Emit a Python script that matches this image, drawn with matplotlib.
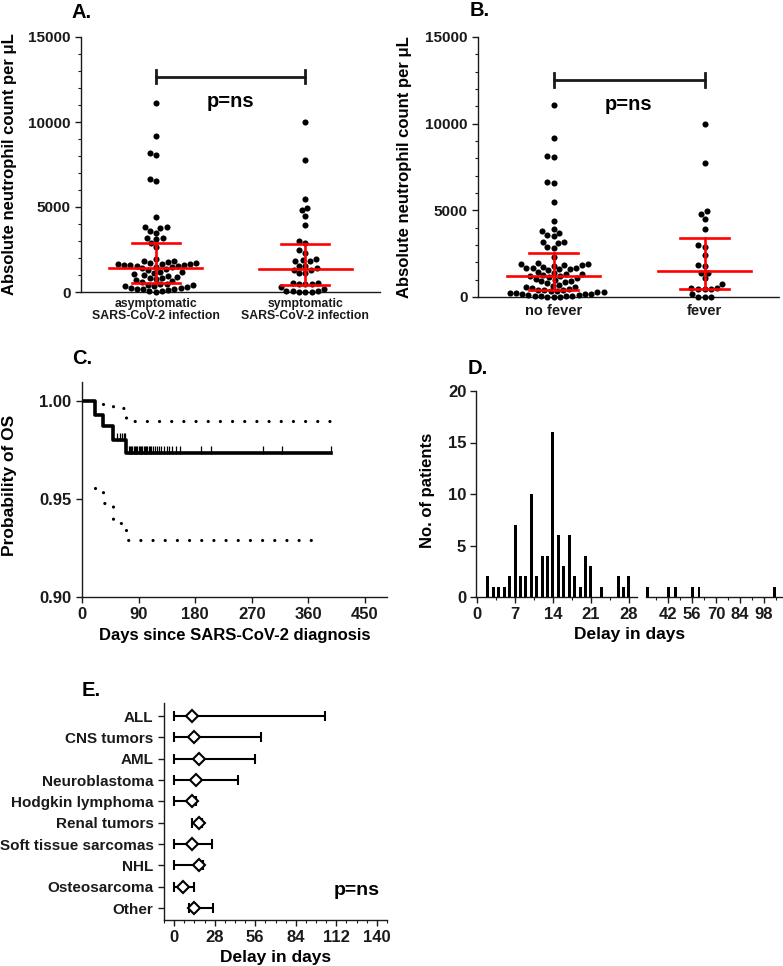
import numpy as np
import matplotlib
matplotlib.use("Agg")
import matplotlib.pyplot as plt
from matplotlib.ticker import MultipleLocator, FormatStrFormatter

plt.rcParams['font.family'] = ['Liberation Sans', 'DejaVu Sans']
plt.rcParams['font.weight'] = 'bold'
plt.rcParams['axes.labelweight'] = 'bold'

# ---- data ----
# A: neutrophils by symptoms
asym_anc = [11100, 9200, 8150, 8050, 6650, 6550, 4400, 3850, 3800, 3750, 3600, 3500,
            3200, 3150, 3100, 2900, 2650, 1950, 1850, 1800, 1750, 1700, 1700, 1650,
            1650, 1650, 1600, 1600, 1600, 1550, 1550, 1500, 1450, 1400, 1350, 1300,
            1200, 1150, 1100, 1050, 1000, 950, 900, 850, 800, 750, 700, 650, 600,
            500, 450, 420, 400, 380, 350, 300, 250, 220, 200, 180, 150, 100, 80, 50, 20]
sym_anc = [10000, 7750, 5500, 4950, 4800, 4500, 3950, 3000, 2900, 2450, 2300, 1950,
           1900, 1850, 1800, 1550, 1550, 1400, 1300, 1300, 1100, 1100, 550, 520, 500,
           500, 480, 270, 150, 50, 40, 30, 20, 10, 0]
a_labels = ['asymptomatic\nSARS-CoV-2 infection', 'symptomatic\nSARS-CoV-2 infection']
a_median = [1400, 1330]
a_q1 = [510, 410]
a_q3 = [2870, 2830]

# B: neutrophils by fever
nofever_anc = [11100, 9200, 8150, 8050, 6650, 6550, 5500, 4400, 3900, 3800, 3700, 3600,
               3500, 3150, 3100, 3150, 2900, 2850, 2300, 1950, 1900, 1900, 1850, 1850,
               1800, 1750, 1700, 1700, 1650, 1600, 1600, 1550, 1450, 1400, 1350, 1300,
               1250, 1200, 1200, 1150, 1100, 1050, 1000, 950, 900, 850, 800, 700, 650,
               600, 550, 500, 450, 420, 400, 380, 350, 320, 300, 280, 250, 220, 200,
               180, 150, 120, 100, 80, 60, 40, 30, 20, 10, 0]
fever_anc = [10000, 7750, 4950, 4800, 4500, 3950, 3000, 2900, 2450, 1850, 1800, 1400,
             1400, 1100, 750, 500, 500, 480, 460, 450, 150, 20, 10, 0]
b_labels = ['no fever', 'fever']
b_median = [1190, 1500]
b_q1 = [390, 460]
b_q3 = [2540, 3420]

# C: overall survival
km_death_days = [20, 33, 50, 70]
km_surv = [1.0, 0.993, 0.987, 0.980, 0.9735]
km_last_day = 396
km_censor_days = [56, 60, 63, 66, 69, 74, 76, 78, 80, 82, 84, 86, 88, 90, 92, 94, 96,
                  98, 100, 102, 104, 106, 108, 110, 113, 116, 119, 122, 126, 130, 135,
                  139, 143, 150, 156, 190, 205, 288, 318, 396]
ci_upper_days = [33, 50, 70, 394]
ci_upper = [0.9985, 0.9965, 0.990, 0.990]
ci_lower_days = [20, 33, 50, 70, 380]
ci_lower = [0.9555, 0.948, 0.938, 0.929, 0.929]

# D: delay histogram
delay_days = [2, 3, 4, 5, 6, 7, 8, 9, 10, 11, 12, 13, 14, 15, 16, 17, 18, 19, 20, 21,
              23, 26, 27, 28, 30, 42, 46, 56, 60, 104]
delay_counts = [2, 1, 1, 1, 2, 7, 2, 2, 10, 2, 4, 4, 16, 6, 3, 6, 2, 1, 4, 3,
                1, 2, 1, 2, 1, 1, 1, 1, 1, 1]

# E: delay by tumor type
tumor_types = ['ALL', 'CNS tumors', 'AML', 'Neuroblastoma', 'Hodgkin lymphoma',
               'Renal tumors', 'Soft tissue sarcomas', 'NHL', 'Osteosarcoma', 'Other']
tumor_median = [12, 14, 17, 15, 12, 17, 12, 17, 6, 14]
tumor_min = [0, 0, 0, 0, 0, 12, 0, 0, 0, 10]
tumor_max = [104, 60, 56, 44, 15, 19, 26, 20, 14, 27]

W, H = 783, 966
fig = plt.figure(figsize=(W / 100, H / 100), dpi=100)
INK = '#1a1a1a'


def px_axes(x0, y0, x1, y1):
    return fig.add_axes([x0 / W, 1 - y1 / H, (x1 - x0) / W, (y1 - y0) / H])


def style(ax):
    for s in ['top', 'right']:
        ax.spines[s].set_visible(False)
    for s in ['left', 'bottom']:
        ax.spines[s].set_color(INK)
        ax.spines[s].set_linewidth(1.0)
    ax.tick_params(colors=INK, width=1.0, length=4, labelsize=11)
    ax.tick_params(which='minor', width=0.8, length=2.5, colors=INK)


def swarm(values, px_per_y, px_per_x, d=6.3):
    ypx = np.asarray(values, float) * px_per_y
    xs = np.zeros(len(ypx))
    placed = []
    for i in np.argsort(ypx):
        y = ypx[i]
        near = [(px, py) for px, py in placed if abs(py - y) < d]
        cands = [0.0]
        for px, py in near:
            dx = np.sqrt(d * d - (py - y) ** 2)
            cands += [px - dx, px + dx]
        cands.sort(key=abs)
        for c in cands:
            if all((c - px) ** 2 + (y - py) ** 2 >= d * d - 1e-6 for px, py in near):
                xs[i] = c
                placed.append((c, y))
                break
    return xs / px_per_x


def dot_panel(ax, groups, labels, med, q1, q3, bracket_y, p_y, h_px, w_px, lab_size, lab_pad):
    style(ax)
    ax.set_xlim(-0.5, 1.5)
    ax.set_ylim(0, 15000)
    for k, vals in enumerate(groups):
        off = swarm(vals, h_px / 15000, w_px / 2.0)
        ax.plot(k + off, vals, 'o', color='black', ms=4.4, mec='none', clip_on=False, zorder=3)
        ax.plot([k - 0.31, k + 0.31], [med[k]] * 2, color='red', lw=1.9, zorder=4)
        ax.plot([k - 0.16, k + 0.16], [q1[k]] * 2, color='red', lw=1.9, zorder=4)
        ax.plot([k - 0.16, k + 0.16], [q3[k]] * 2, color='red', lw=1.9, zorder=4)
        ax.plot([k, k], [q1[k], q3[k]], color='red', lw=1.9, zorder=4)
    ax.plot([0, 1], [bracket_y] * 2, color=INK, lw=2.0)
    for k in (0, 1):
        ax.plot([k, k], [bracket_y - 380, bracket_y + 380], color=INK, lw=2.0)
    ax.text(0.5, p_y, 'p=ns', ha='center', va='center', fontsize=14.5, fontweight='bold')
    ax.spines['bottom'].set_linestyle((0, (1.5, 1)))
    ax.set_xticks([0, 1])
    ax.set_xticklabels(labels, fontsize=lab_size, linespacing=1.0)
    ax.tick_params(axis='x', length=0, pad=lab_pad)
    ax.yaxis.set_major_locator(MultipleLocator(5000))
    ax.yaxis.set_minor_locator(MultipleLocator(1000))
    ax.set_ylabel('Absolute neutrophil count per \u03bcL', fontsize=12)


# ---- A ----
axA = px_axes(81, 37, 380, 292)
dot_panel(axA, [asym_anc, sym_anc], a_labels, a_median, a_q1, a_q3, 12650, 11200,
          255, 299, 8.8, 4)
axA.yaxis.set_label_coords(-0.215, 0.5)

# ---- B ----
axB = px_axes(478, 37, 780, 297)
dot_panel(axB, [nofever_anc, fever_anc], b_labels, b_median, b_q1, b_q3, 12520, 11100,
          260, 302, 10.5, 5)
axB.yaxis.set_label_coords(-0.22, 0.5)

# ---- C ----
axC = px_axes(82, 382, 387, 597)
style(axC)
km_t = [0] + km_death_days + [km_last_day]
km_s = km_surv + [km_surv[-1]]
axC.step(km_t, km_s, where='post', color='black', lw=2.6, zorder=3)
cidx = np.searchsorted(km_death_days, km_censor_days, side='right')
axC.plot(km_censor_days, np.array(km_surv)[cidx] + 0.0016, '|', color='black',
         ms=5.5, mew=0.9, zorder=3)
dot_ls = (0, (0.01, 3.8))
axC.step(ci_upper_days, ci_upper, where='post', color='black', lw=2.3,
         ls=dot_ls, dash_capstyle='round')
axC.step(ci_lower_days, ci_lower, where='post', color='black', lw=2.3,
         ls=dot_ls, dash_capstyle='round')
axC.set_xlim(0, 485)
axC.set_ylim(0.90, 1.0097)
axC.set_xticks(range(0, 451, 90))
axC.set_yticks([0.90, 0.95, 1.00])
axC.yaxis.set_major_formatter(FormatStrFormatter('%.2f'))
axC.tick_params(labelsize=12)
axC.set_xlabel('Days since SARS-CoV-2 diagnosis', fontsize=12, labelpad=4)
axC.set_ylabel('Probability of OS', fontsize=12.5)
axC.yaxis.set_label_coords(-0.213, 0.52)

# ---- D (broken x axis) ----
axD1 = px_axes(476, 391, 637, 597)
axD2 = px_axes(646, 391, 782, 597)
for ax, lo, hi, bw, ticks, minor in [(axD1, -0.2, 29.5, 0.55, range(0, 29, 7), 3.5),
                                     (axD2, 29, 108.5, 1.7, range(42, 99, 14), 7)]:
    style(ax)
    ax.bar(delay_days, delay_counts, width=bw, color='black', zorder=3)
    ax.set_xlim(lo, hi)
    ax.set_ylim(0, 20)
    ax.set_xticks(list(ticks))
    ax.xaxis.set_minor_locator(MultipleLocator(minor))
    ax.tick_params(labelsize=12, pad=3)
axD1.yaxis.set_major_locator(MultipleLocator(5))
axD1.set_ylabel('No. of patients', fontsize=12)
axD1.yaxis.set_label_coords(-0.255, 0.52)
axD2.spines['left'].set_visible(False)
axD2.set_yticks([])
fig.text(630 / W, 1 - 634 / H, 'Delay in days', ha='center', va='center', fontsize=12.5)

# ---- E ----
axE = px_axes(164, 703, 387, 920)
style(axE)
ypos = np.arange(len(tumor_types))[::-1]
med = np.array(tumor_median)
axE.errorbar(med, ypos, xerr=[med - np.array(tumor_min), np.array(tumor_max) - med],
             fmt='none', ecolor='black', elinewidth=1.5, capsize=3.5, capthick=1.5, zorder=2)
axE.plot(med, ypos, 'D', ms=6.5, mfc='white', mec='black', mew=1.5, zorder=3)
axE.set_yticks(ypos)
axE.set_yticklabels(tumor_types, fontsize=11)
axE.set_ylim(-0.56, 9.61)
axE.set_xlim(-7, 147)
axE.set_xticks(range(0, 141, 28))
axE.xaxis.set_minor_locator(MultipleLocator(7))
axE.tick_params(axis='x', labelsize=12)
axE.set_xlabel('Delay in days', fontsize=12.5, labelpad=3)
axE.text(126, 0.8, 'p=ns', ha='center', va='center', fontsize=14)

# panel letters
for lab, x, y in [('A.', 72, 13), ('B.', 470, 11), ('C.', 72, 358), ('D.', 468, 368),
                  ('E.', 82, 690)]:
    fig.text(x / W, 1 - y / H, lab, ha='left', va='center', fontsize=14.5, fontweight='bold')

fig.savefig('out.png', dpi=100)
